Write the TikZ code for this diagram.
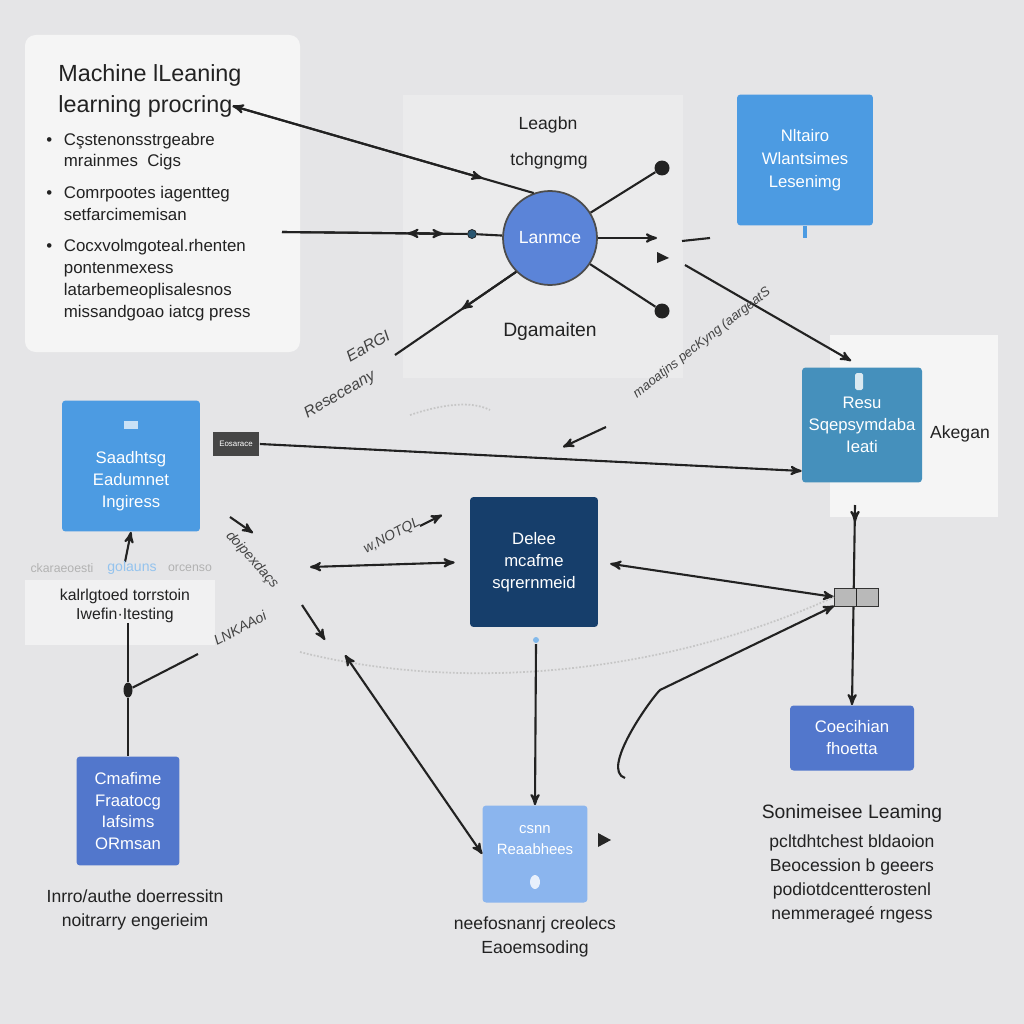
\documentclass[tikz,border=0pt]{standalone}
\usepackage{fontspec}
\setmainfont{Liberation Sans}
\usepackage{tikz}
\usetikzlibrary{positioning,shapes,arrows,calc}
\definecolor{bgray}{HTML}{E5E5E7}
\definecolor{panelw}{HTML}{F5F5F5}
\definecolor{panelm}{HTML}{EBEBEC}
\definecolor{skyblue}{HTML}{4C9BE2}
\definecolor{circblue}{HTML}{5B84D8}
\definecolor{tealblue}{HTML}{4590BC}
\definecolor{navy}{HTML}{163E6B}
\definecolor{royal}{HTML}{5277CC}
\definecolor{paleblue}{HTML}{8BB5EE}
\definecolor{ink}{HTML}{222222}
\newcommand{\bulletmark}{\makebox[10pt][l]{\textbullet}}
\newcommand{\bulletgap}{\hspace*{10pt}}

\begin{document}
\begin{tikzpicture}[x=0.02cm,y=-0.02cm,
  box/.style={rounded corners=2pt, text=white, align=center, inner sep=0pt,
    font=\fontsize{9.5}{12.5}\selectfont},
  txt/.style={align=center, text=ink, inner sep=0pt, font=\fontsize{10}{13.2}\selectfont},
  bullet/.style={anchor=west, align=left, text=ink, inner sep=0pt,
    font=\fontsize{9.6}{12}\selectfont},
  dot/.style={circle, fill=ink, inner sep=0pt, minimum size=0.3cm},
  line/.style={ink, line width=1.2pt},
  arr/.style={ink, line width=1.2pt, -stealth'},
  garble/.style={text=ink!85, inner sep=0pt, font=\fontsize{8}{9}\selectfont\itshape},
  faint/.style={gray!45, densely dotted, line width=1pt}]
  \useasboundingbox (0,0) rectangle (1024,1024);
  \fill[bgray] (0,0) rectangle (1024,1024);

  % panels
  \fill[panelw, rounded corners=6pt] (25,35) rectangle (300,352);
  \fill[panelm] (403,95) rectangle (683,378);
  \fill[panelw] (830,335) rectangle (998,517);
  \fill[white!45!bgray] (25,580) rectangle (215,645);

  % left panel text
  \node[anchor=west, text=ink, inner sep=0pt, font=\fontsize{13.3}{15}\selectfont] (title1) at (58,75) {Machine lLeaning};
  \node[anchor=west, text=ink, inner sep=0pt, font=\fontsize{13.3}{15}\selectfont] (title2) at (58,106) {learning procring};
  \node[bullet] (b1) at (46,151.5) {\bulletmark Cşstenonsstrgeabre\\\bulletgap mrainmes\ \ Cigs};
  \node[bullet] (b2) at (46,203.5) {\bulletmark Comrpootes iagentteg\\\bulletgap setfarcimemisan};
  \node[bullet, font=\fontsize{9.6}{12.6}\selectfont] (b3) at (46,280) {\bulletmark Cocxvolmgoteal.rhenten\\\bulletgap pontenmexess\\\bulletgap latarbemeoplisalesnos\\\bulletgap missandgoao iatcg press};

  % middle panel
  \node[txt] (lgn) at (548,125) {Leagbn};
  \node[txt] (tch) at (549,161) {tchgngmg};
  \node[txt, font=\fontsize{11}{13}\selectfont] (dgm) at (550,331) {Dgamaiten};
  \node[circle, fill=circblue, draw=gray!60!black, line width=1pt, minimum size=1.88cm,
    text=white, font=\fontsize{10}{12}\selectfont] (lrn) at (550,238) {Lanmce};
  \node[dot] (d1) at (662,168) {};
  \node[dot] (d2) at (662,311) {};
  \node[circle, fill=tealblue!60!black, draw=ink, inner sep=0pt, minimum size=0.18cm] (ld) at (472,234) {};
  \coordinate (r1) at (657,238);
  \coordinate (lp) at (282,232);
  \coordinate (ll) at (395,355);
  \draw[line] (lrn) -- (d1);
  \draw[line] (lrn) -- (d2);
  \draw[arr] (lrn) -- (r1);
  \draw[line] (lrn) -- (ld);
  \draw[line] (lp) -- (ld);
  \draw[arr] (lp) -- ($(lp)!0.85!(ld)$);
  \draw[arr] ($(lp)!0.8!(ld)$) -- ($(lp)!0.66!(ld)$);
  \draw[arr] (lrn.110) -- (title2.east);
  \draw[arr] (title2.east) -- ($(title2.east)!0.83!(lrn.110)$);
  \draw[line] (lrn.225) -- (ll);
  \draw[arr] (lrn.225) -- ($(lrn.225)!0.45!(ll)$);

  % top right
  \node[box, fill=skyblue, minimum width=2.72cm, minimum height=2.62cm,
    font=\fontsize{9.5}{13}\selectfont] (nlt) at (805,160) {Nltairo\\Wlantsimes\\Lesenimg};
  \fill[skyblue] (803,226) rectangle (807,238);
  \draw[line] (682,241) -- (710,238);
  \fill[ink] (657,252) -- (669,258) -- (657,263) -- cycle;
  \coordinate (a1) at (685,265);

  % right panel
  \node[box, fill=tealblue, minimum width=2.4cm, minimum height=2.3cm,
    font=\fontsize{9.5}{12.5}\selectfont] (teal) at (862,425) {Resu\\Sqepsymdaba\\Ieati};
  \fill[white!80!tealblue, rounded corners=1pt] (855,373) rectangle (863,390);
  \node[txt] (akg) at (960,434) {Akegan};
  \draw[arr, shorten >=0.25cm] (a1) -- (teal.north);
  \node[garble, rotate=38, font=\fontsize{7.5}{9}\selectfont\itshape] (g1) at (702,343) {maoatjns pecKyng (aargeatS};

  % left middle
  \node[box, fill=skyblue, minimum width=2.76cm, minimum height=2.62cm] (sdh) at (131,466)
    {{\color{white!70!skyblue}\rule{8pt}{5pt}}\\[0.25cm]Saadhtsg\\Eadumnet\\Ingiress};
  \node[fill=gray!55!black, text=white, minimum width=0.94cm, minimum height=0.48cm,
    inner sep=0pt, font=\fontsize{4.5}{5}\selectfont] (lbl) at (236,444) {Eosarace};
  \draw[arr] (lbl.east) -- ([yshift=-0.92cm]teal.west);
  \draw[arr] (606,427) -- (563,447);
  \node[garble, rotate=30, font=\fontsize{9}{10}\selectfont\itshape] (g2) at (368,346) {EaRGI};
  \node[garble, rotate=30, font=\fontsize{9}{10}\selectfont\itshape] (g3) at (340,395) {Reseceany};
  \draw[faint] (410,415) .. controls (440,405) and (470,400) .. (490,410);

  \coordinate (up1) at (125,562);
  \draw[arr] (up1) -- (sdh.south);
  \node[txt, text=gray!60, font=\fontsize{7}{8}\selectfont] (ck1) at (62,568) {ckaraeoesti};
  \node[txt, text=skyblue!60, font=\fontsize{8}{9}\selectfont] (ck2) at (132,568) {golauns};
  \node[txt, text=gray!60, font=\fontsize{7}{8}\selectfont] (ck3) at (190,568) {orcenso};
  \node[txt, font=\fontsize{9}{10.5}\selectfont] (klr) at (125,606) {kalrlgtoed torrstoin\\Iwefin·Itesting};

  % left bottom
  \node[ellipse, fill=ink, inner sep=0pt, minimum width=0.18cm, minimum height=0.3cm] (blob) at (128,690) {};
  \node[box, fill=royal, minimum width=2.06cm, minimum height=2.18cm,
    font=\fontsize{9.5}{12.2}\selectfont] (cmf) at (128,811) {Cmafime\\Fraatocg\\Iafsims\\ORmsan};
  \draw[line] (klr.south -| blob) -- (blob);
  \draw[line] (blob) -- (cmf.north);
  \coordinate (lu) at (198,654);
  \draw[line] (blob) -- (lu);
  \node[garble, rotate=28] (g4) at (240,628) {LNKAAoi};
  \node[garble, rotate=28] (g6) at (392,536) {w,NOTQL};
  \draw[arr] (420,526) -- (442,515);
  \node[garble, rotate=-48] (g5) at (252,560) {doipexdaçs};
  \draw[arr] (230,517) -- (253,533);
  \draw[arr] (302,605) -- (325,640);
  \node[txt] (inr) at (135,910) {Inrro/authe doerressitn\\noitrarry engerieim};

  % center
  \node[box, fill=navy, minimum width=2.56cm, minimum height=2.6cm] (dle) at (534,562)
    {Delee\\mcafme\\sqrernmeid};
  \draw[arr, stealth'-stealth', shorten >=0.3cm] (310,567) -- (dle.west);
  \node[fill=gray!55, draw=gray!40!black, minimum width=0.86cm, minimum height=0.34cm,
    inner sep=0pt] (chip) at (856,597) {};
  \coordinate (rp) at (855,505);
  \node[box, fill=royal, minimum width=2.48cm, minimum height=1.3cm,
    font=\fontsize{9.5}{12.5}\selectfont] (coe) at (852,738) {Coecihian\\fhoetta};
  \draw[arr] (rp) -- (coe.north);
  \draw[arr] (rp) -- (855,522);
  \draw[fill=gray!55, draw=gray!40!black] (chip.south west) rectangle (chip.north east);
  \draw[gray!30!black] (chip.south) -- (chip.north);
  \draw[arr, stealth'-stealth', shorten <=0.24cm] (dle.east) -- (chip.west);
  \draw[faint] (300,652) .. controls (450,690) and (650,680) .. (chip.west);
  \draw[arr] (625,778) .. controls (600,770) and (650,700) .. (660,690) -- (chip.south west);

  % bottom center
  \node[box, fill=paleblue, minimum width=2.1cm, minimum height=1.94cm,
    font=\fontsize{8.5}{12}\selectfont] (csn) at (535,854) {csnn\\Reaabhees\\\strut};
  \fill[white!80!paleblue] (535,882) ellipse (5 and 7);
  \fill[skyblue!70] (536,640) circle (3);
  \draw[arr] (536,644) -- (csn.north);
  \draw[arr, stealth'-stealth'] (345,655) -- (csn.west);
  \fill[gray!30!black] (598,833) -- (611,840) -- (598,847) -- cycle;
  \node[txt] (nef) at (535,937) {neefosnanrj creolecs\\Eaoemsoding};

  % bottom right
  \node[txt, font=\fontsize{11}{13}\selectfont] (snm) at (852,813) {Sonimeisee Leaming};
  \node[txt, font=\fontsize{10}{13.6}\selectfont] (pcl) at (852,879)
    {pcltdhtchest bldaoion\\Beocession b geeers\\podiotdcentterostenl\\nemmerageé rngess};
\end{tikzpicture}
\end{document}
